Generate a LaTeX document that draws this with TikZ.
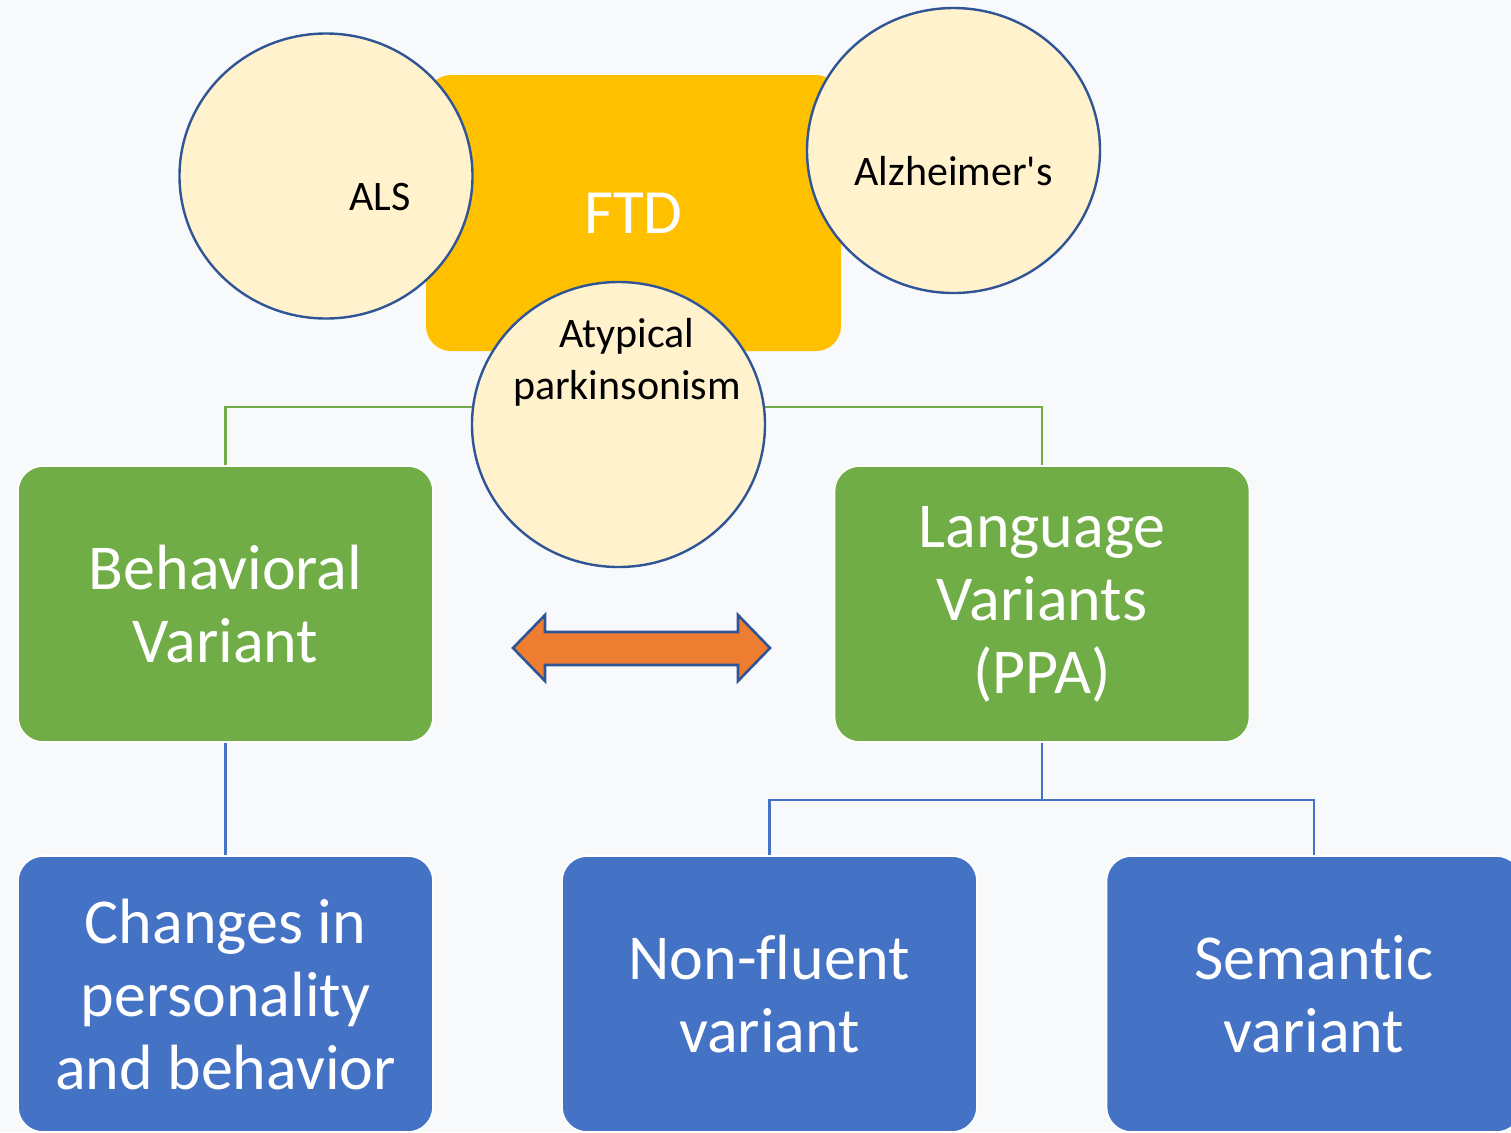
\documentclass[tikz,border=0pt]{standalone}
\usepackage{fontspec}
\setmainfont{Carlito}[Ligatures={NoCommon}]
\definecolor{bg}{HTML}{F8F9FB}
\definecolor{ftdyellow}{HTML}{FFC000}
\definecolor{cream}{HTML}{FFF2CC}
\definecolor{navy}{HTML}{2F5597}
\definecolor{mygreen}{HTML}{70AD47}
\definecolor{myblue}{HTML}{4472C4}
\definecolor{myorange}{HTML}{ED7D31}
\tikzset{
  bigbox/.style={rectangle, rounded corners=12.5pt, draw=white, line width=0.8pt,
    minimum width=207.5pt, minimum height=138pt, inner sep=0pt, text=white,
    align=center, font=\fontsize{32}{36.5}\selectfont},
  greenbox/.style={bigbox, fill=mygreen},
  bluebox/.style={bigbox, fill=myblue},
  disc/.style={ellipse, fill=cream, draw=navy, line width=1.2pt,
    minimum width=146.5pt, minimum height=142.5pt, inner sep=0pt},
  disctext/.style={text=black, align=center, font=\fontsize{21}{26}\selectfont},
  greenline/.style={draw=mygreen, line width=1.1pt},
  blueline/.style={draw=myblue, line width=1.1pt},
}
\usetikzlibrary{shapes.geometric}
\begin{document}
\begin{tikzpicture}[x=0.5pt,y=-0.5pt]
\clip (0,0) rectangle (1511,1132);
\fill[bg] (0,0) rectangle (1511,1132);
% FTD
\node[rectangle, rounded corners=12.5pt, fill=ftdyellow, minimum width=207.5pt,
  minimum height=138pt, inner sep=0pt, text=white, font=\fontsize{31.5}{36}\selectfont]
  (ftd) at (633.5,213) {FTD};
% ALS and Alzheimer's circles
\node[disc] (als) at (326,176) {};
\node[disctext] (alstext) at (380,197) {ALS};
\node[disc] (alz) at (953.5,150.5) {};
\node[disctext] (alztext) at (953.5,171) {Alzheimer\textquotesingle s};
% Green boxes
\node[greenbox] (bv) at (225.5,604) {Behavioral\\Variant};
\node[greenbox] (lv) at (1042,604) {Language\\Variants\\(PPA)};
% green connector
\draw[greenline] (bv.north) -- ++(0,-58) -| (lv.north);
% Atypical parkinsonism circle
\node[disc] (atp) at (618.5,424.5) {};
\node[disctext] (atptext) at (627,362) {Atypical\\parkinsonism};
% Blue boxes
\node[bluebox] (cpb) at (225.5,994) {Changes in\\personality\\and behavior};
\node[bluebox] (nfv) at (769.5,994) {Non-fluent\\variant};
\node[bluebox] (smv) at (1314,994) {Semantic\\variant};
% blue connectors
\draw[blueline] (bv.south) -- (cpb.north);
\draw[blueline] (lv.south) -- ++(0,57) coordinate (split);
\draw[blueline] (nfv.north) |- (split) -| (smv.north);
% double arrow
\draw[fill=myorange, draw=navy, line width=1.3pt, line join=miter]
  (513,648) -- (545,615) -- (545,632) -- (738,632) -- (738,615) -- (770,648)
  -- (738,681) -- (738,665) -- (545,665) -- (545,681) -- cycle;
\end{tikzpicture}
\end{document}
